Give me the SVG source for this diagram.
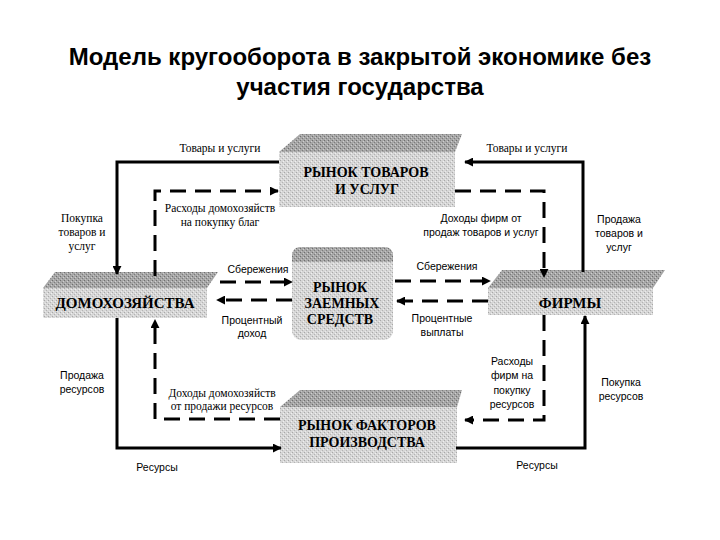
<svg xmlns="http://www.w3.org/2000/svg" width="720" height="540" viewBox="0 0 720 540">
<defs>
<pattern id="texL" width="4" height="4" patternUnits="userSpaceOnUse">
<rect width="4" height="4" fill="#d6d6d6"/>
<rect x="0" y="0" width="1" height="1" fill="#a8a8a8"/>
<rect x="2" y="2" width="1" height="1" fill="#b4b4b4"/>
<rect x="3" y="1" width="1" height="1" fill="#f0f0f0"/>
<rect x="1" y="3" width="1" height="1" fill="#eaeaea"/>
</pattern>
<pattern id="texD" width="4" height="4" patternUnits="userSpaceOnUse">
<rect width="4" height="4" fill="#a6a6a6"/>
<rect x="0" y="0" width="1" height="1" fill="#6e6e6e"/>
<rect x="2" y="2" width="1" height="1" fill="#7c7c7c"/>
<rect x="3" y="1" width="1" height="1" fill="#cfcfcf"/>
<rect x="1" y="3" width="1" height="1" fill="#c4c4c4"/>
</pattern>
<marker id="arr" viewBox="0 0 10 10" refX="9" refY="5" markerWidth="9" markerHeight="9" markerUnits="userSpaceOnUse" orient="auto">
<path d="M0,0 L10,5 L0,10 z" fill="#000"/>
</marker>
<style>
.title{font-family:"Liberation Sans",Arial,sans-serif;font-weight:bold;font-size:24px;fill:#000;text-anchor:middle}
.box{font-family:"Liberation Serif","Times New Roman",serif;font-weight:bold;font-size:14px;fill:#000;text-anchor:middle}
.boxb{font-size:15px}
.ls{font-family:"Liberation Serif","Times New Roman",serif;font-size:11.5px;fill:#000;text-anchor:middle}
.lss{font-family:"Liberation Sans",Arial,sans-serif;font-size:10.5px;fill:#000;text-anchor:middle}
.solid{fill:none;stroke:#000;stroke-width:3}
.dash{fill:none;stroke:#000;stroke-width:3;stroke-dasharray:16 9}
.face{fill:url(#texL)}
.top{fill:url(#texD)}
</style>
</defs>
<rect width="720" height="540" fill="#fff"/>
<text class="title" x="360" y="65">Модель кругооборота в закрытой экономике без</text>
<text class="title" x="360" y="95">участия государства</text>

<g id="goods-market">
<polygon class="top" points="300,134 462,134 455,152 279,152"/>
<rect class="face" x="279" y="152" width="176" height="55"/>
<text class="box" x="366" y="177">РЫНОК ТОВАРОВ</text>
<text class="box" x="367" y="194">И УСЛУГ</text>
</g>

<g id="loan-market">
<rect class="face" x="292" y="247" width="101" height="93" rx="9"/>
<path class="top" d="M301,247 H384 Q393,247 393,256 V262 H292 V256 Q292,247 301,247 z"/>
<text class="box" x="340" y="292">РЫНОК</text>
<text class="box" x="342" y="308">ЗАЕМНЫХ</text>
<text class="box" x="340" y="324">СРЕДСТВ</text>
</g>

<g id="factor-market">
<polygon class="top" points="300,390 462,390 457,407 280,407"/>
<rect class="face" x="280" y="407" width="177" height="56"/>
<text class="box" x="367" y="430">РЫНОК ФАКТОРОВ</text>
<text class="box" x="367" y="447">ПРОИЗВОДСТВА</text>
</g>

<g id="households">
<polygon class="top" points="55,272 218,272 207,288 43,288"/>
<rect class="face" x="43" y="288" width="164" height="30"/>
<text class="box boxb" x="125" y="308">ДОМОХОЗЯЙСТВА</text>
</g>

<g id="firms">
<polygon class="top" points="502,270 665,270 653,288 488,288"/>
<rect class="face" x="488" y="288" width="165" height="27"/>
<text class="box boxb" x="570" y="308">ФИРМЫ</text>
</g>

<g id="connectors">
<path class="solid" d="M279,162 H117 V274" marker-end="url(#arr)"/>
<path class="solid" d="M583,272 V162 H465" marker-end="url(#arr)"/>
<path class="dash" d="M155,276 V191 H278" marker-end="url(#arr)"/>
<path class="dash" d="M455,191 H544 V277" marker-end="url(#arr)"/>
<path class="dash" d="M220,282 H292" marker-end="url(#arr)"/>
<path class="dash" d="M292,300 H217" marker-end="url(#arr)"/>
<path class="dash" d="M395,281 H490" marker-end="url(#arr)"/>
<path class="dash" d="M488,301 H397" marker-end="url(#arr)"/>
<path class="solid" d="M117,318 V448 H281" marker-end="url(#arr)"/>
<path class="dash" d="M280,419 H155 V320" marker-end="url(#arr)"/>
<path class="solid" d="M456,448 H585 V316" marker-end="url(#arr)"/>
<path class="dash" d="M544,315 V420 H465" marker-end="url(#arr)"/>
</g>

<g id="labels">
<text class="ls" x="220" y="152">Товары и услуги</text>
<text class="ls" x="527" y="152">Товары и услуги</text>
<text class="ls" x="82" y="222">Покупка</text>
<text class="ls" x="82" y="236">товаров и</text>
<text class="ls" x="82" y="250">услуг</text>
<text class="ls" x="220" y="212">Расходы домохозяйств</text>
<text class="ls" x="220" y="226">на покупку благ</text>
<text class="lss" x="481" y="222">Доходы фирм от</text>
<text class="lss" x="481" y="236">продаж товаров и услуг</text>
<text class="lss" x="619" y="223">Продажа</text>
<text class="lss" x="619" y="237">товаров и</text>
<text class="lss" x="619" y="251">услуг</text>
<text class="lss" x="258" y="273">Сбережения</text>
<text class="lss" x="252" y="324">Процентный</text>
<text class="lss" x="252" y="337">доход</text>
<text class="lss" x="447" y="270">Сбережения</text>
<text class="lss" x="442" y="322">Процентные</text>
<text class="lss" x="442" y="336">выплаты</text>
<text class="lss" x="82" y="379">Продажа</text>
<text class="lss" x="82" y="393">ресурсов</text>
<text class="ls" x="222" y="397">Доходы домохозяйств</text>
<text class="ls" x="222" y="410">от продажи ресурсов</text>
<text class="lss" x="157" y="471">Ресурсы</text>
<text class="lss" x="512" y="365">Расходы</text>
<text class="lss" x="512" y="379">фирм на</text>
<text class="lss" x="512" y="394">покупку</text>
<text class="lss" x="512" y="408">ресурсов</text>
<text class="lss" x="621" y="386">Покупка</text>
<text class="lss" x="621" y="400">ресурсов</text>
<text class="lss" x="537" y="469">Ресурсы</text>
</g>
</svg>
